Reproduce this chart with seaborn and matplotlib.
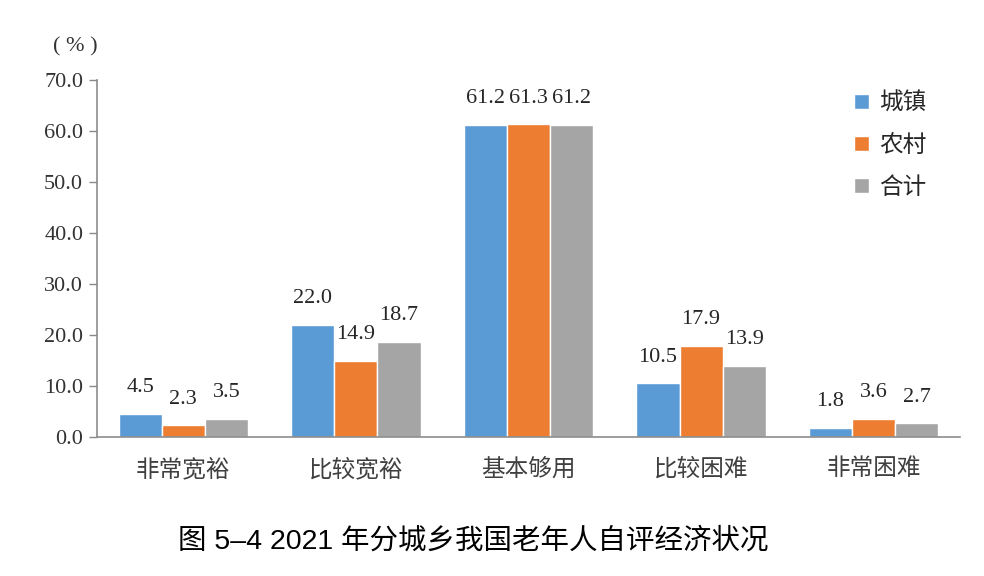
import numpy as np
import pandas as pd
import seaborn as sns
import matplotlib
matplotlib.use("Agg")
import matplotlib.pyplot as plt

categories = ['非常宽裕', '比较宽裕', '基本够用', '比较困难', '非常困难']
groups = ['城镇', '农村', '合计']
urban = [4.5, 22.0, 61.2, 10.5, 1.8]
rural = [2.3, 14.9, 61.3, 17.9, 3.6]
total = [3.5, 18.7, 61.2, 13.9, 2.7]
colors = ['#5B9BD5', '#ED7D31', '#A5A5A5']

# long format for seaborn
df = pd.DataFrame({
    'cat': categories * 3,
    'grp': [g for g in groups for _ in categories],
    'val': urban + rural + total,
})

sns.set_style('white')
plt.rcParams['font.family'] = ['Liberation Serif', 'Noto Sans CJK SC', 'DejaVu Sans']

fig = plt.figure(figsize=(9.84, 5.76), dpi=100)
ax = fig.add_axes([0.0986, 0.2413, 0.877, 0.6197])

sns.barplot(data=df, x='cat', y='val', hue='grp', order=categories, hue_order=groups,
            palette=colors, saturation=1, width=0.75, gap=0, ax=ax)

for cont in ax.containers:
    ax.bar_label(cont, fmt='%.1f', padding=12, fontsize=16, color='#262626')

ax.set_ylim(0, 70)
ax.set_yticks(np.arange(0, 71, 10))
ax.set_yticklabels([f'{v:.1f}' for v in np.arange(0, 71, 10)], fontsize=16, color='#333333')
ax.set_xlim(-0.5, 4.5)
ax.tick_params(axis='y', left=True, length=6, width=1, color='#888888', pad=4)
ax.tick_params(axis='x', bottom=False, pad=12, labelsize=17, labelcolor='#404040')
ax.set_xlabel('')
ax.set_ylabel('')

for s in ['top', 'right']:
    ax.spines[s].set_visible(False)
for s in ['left', 'bottom']:
    ax.spines[s].set_color('#8c8c8c')
    ax.spines[s].set_linewidth(1.2)

ax.legend(loc='upper left', bbox_to_anchor=(0.853, 1.025), frameon=False, fontsize=17,
          handlelength=0.6, handleheight=0.6, labelspacing=0.85, handletextpad=0.45)

fig.text(0.077, 0.918, '( % )', fontsize=16, ha='center', va='center', color='#333333')
fig.text(0.481, 0.06, '图 5–4 2021 年分城乡我国老年人自评经济状况', fontsize=20.5,
         ha='center', va='center', family=['Liberation Sans', 'Noto Sans CJK SC'], color='black')

fig.savefig('out.png', dpi=100)
